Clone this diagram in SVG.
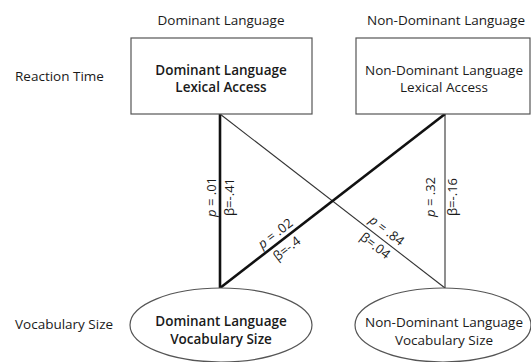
<svg xmlns="http://www.w3.org/2000/svg" width="531" height="362" viewBox="0 0 531 362">
<style>
text{font-family:"Open Sans","Noto Sans","Liberation Sans",sans-serif;font-size:13.5px;fill:#1a1a1a}
.c{text-anchor:middle}
.b{font-weight:600}
.s{font-size:13px}
.shape{fill:#fff;stroke:#555;stroke-width:1.2}
.thick{stroke:#111;stroke-width:2.6;fill:none}
.thin{stroke:#333;stroke-width:1.1;fill:none}
</style>
<rect width="531" height="362" fill="#fff"/>
<g id="headers">
<text class="c" x="221" y="25">Dominant Language</text>
<text class="c" x="446" y="25">Non-Dominant Language</text>
<text x="15" y="81">Reaction Time</text>
<text x="15" y="329">Vocabulary Size</text>
</g>
<g id="connectors">
<line class="thick" x1="220" y1="114" x2="220" y2="288"/>
<line class="thin" x1="445" y1="114" x2="445" y2="288"/>
<line class="thin" x1="220" y1="114" x2="445" y2="288"/>
<line class="thick" x1="220" y1="288" x2="445" y2="114"/>
<text class="c s" transform="translate(216,197) rotate(-90)"><tspan font-style="italic">p</tspan> = .01</text>
<text class="c s" transform="translate(234,197) rotate(-90)">β=-.41</text>
<text class="c s" transform="translate(435,197) rotate(-90)"><tspan font-style="italic">p</tspan> = .32</text>
<text class="c s" transform="translate(457,197) rotate(-90)">β=-.16</text>
<text class="c s" transform="translate(281,241) rotate(-37.7)" y="-5"><tspan font-style="italic">p</tspan> = .02</text>
<text class="c s" transform="translate(281,241) rotate(-37.7)" y="14">β=-.4</text>
<text class="c s" transform="translate(381,238) rotate(37.7)" y="-5"><tspan font-style="italic">p</tspan> = .84</text>
<text class="c s" transform="translate(381,238) rotate(37.7)" y="14">β=.04</text>
</g>
<g id="dom-rt">
<rect class="shape" x="131" y="38" width="181" height="76"/>
<text class="c b" x="221" y="75">Dominant Language</text>
<text class="c b" x="221" y="92">Lexical Access</text>
</g>
<g id="nondom-rt">
<rect class="shape" x="356" y="38" width="174" height="76"/>
<text class="c" x="444" y="75">Non-Dominant Language</text>
<text class="c" x="444" y="92">Lexical Access</text>
</g>
<g id="dom-vs">
<ellipse class="shape" cx="221" cy="325" rx="91" ry="37"/>
<text class="c b" x="221" y="326">Dominant Language</text>
<text class="c b" x="221" y="344">Vocabulary Size</text>
</g>
<g id="nondom-vs">
<ellipse class="shape" cx="443" cy="325" rx="88" ry="37"/>
<text class="c" x="444" y="327">Non-Dominant Language</text>
<text class="c" x="444" y="345">Vocabulary Size</text>
</g>
</svg>
